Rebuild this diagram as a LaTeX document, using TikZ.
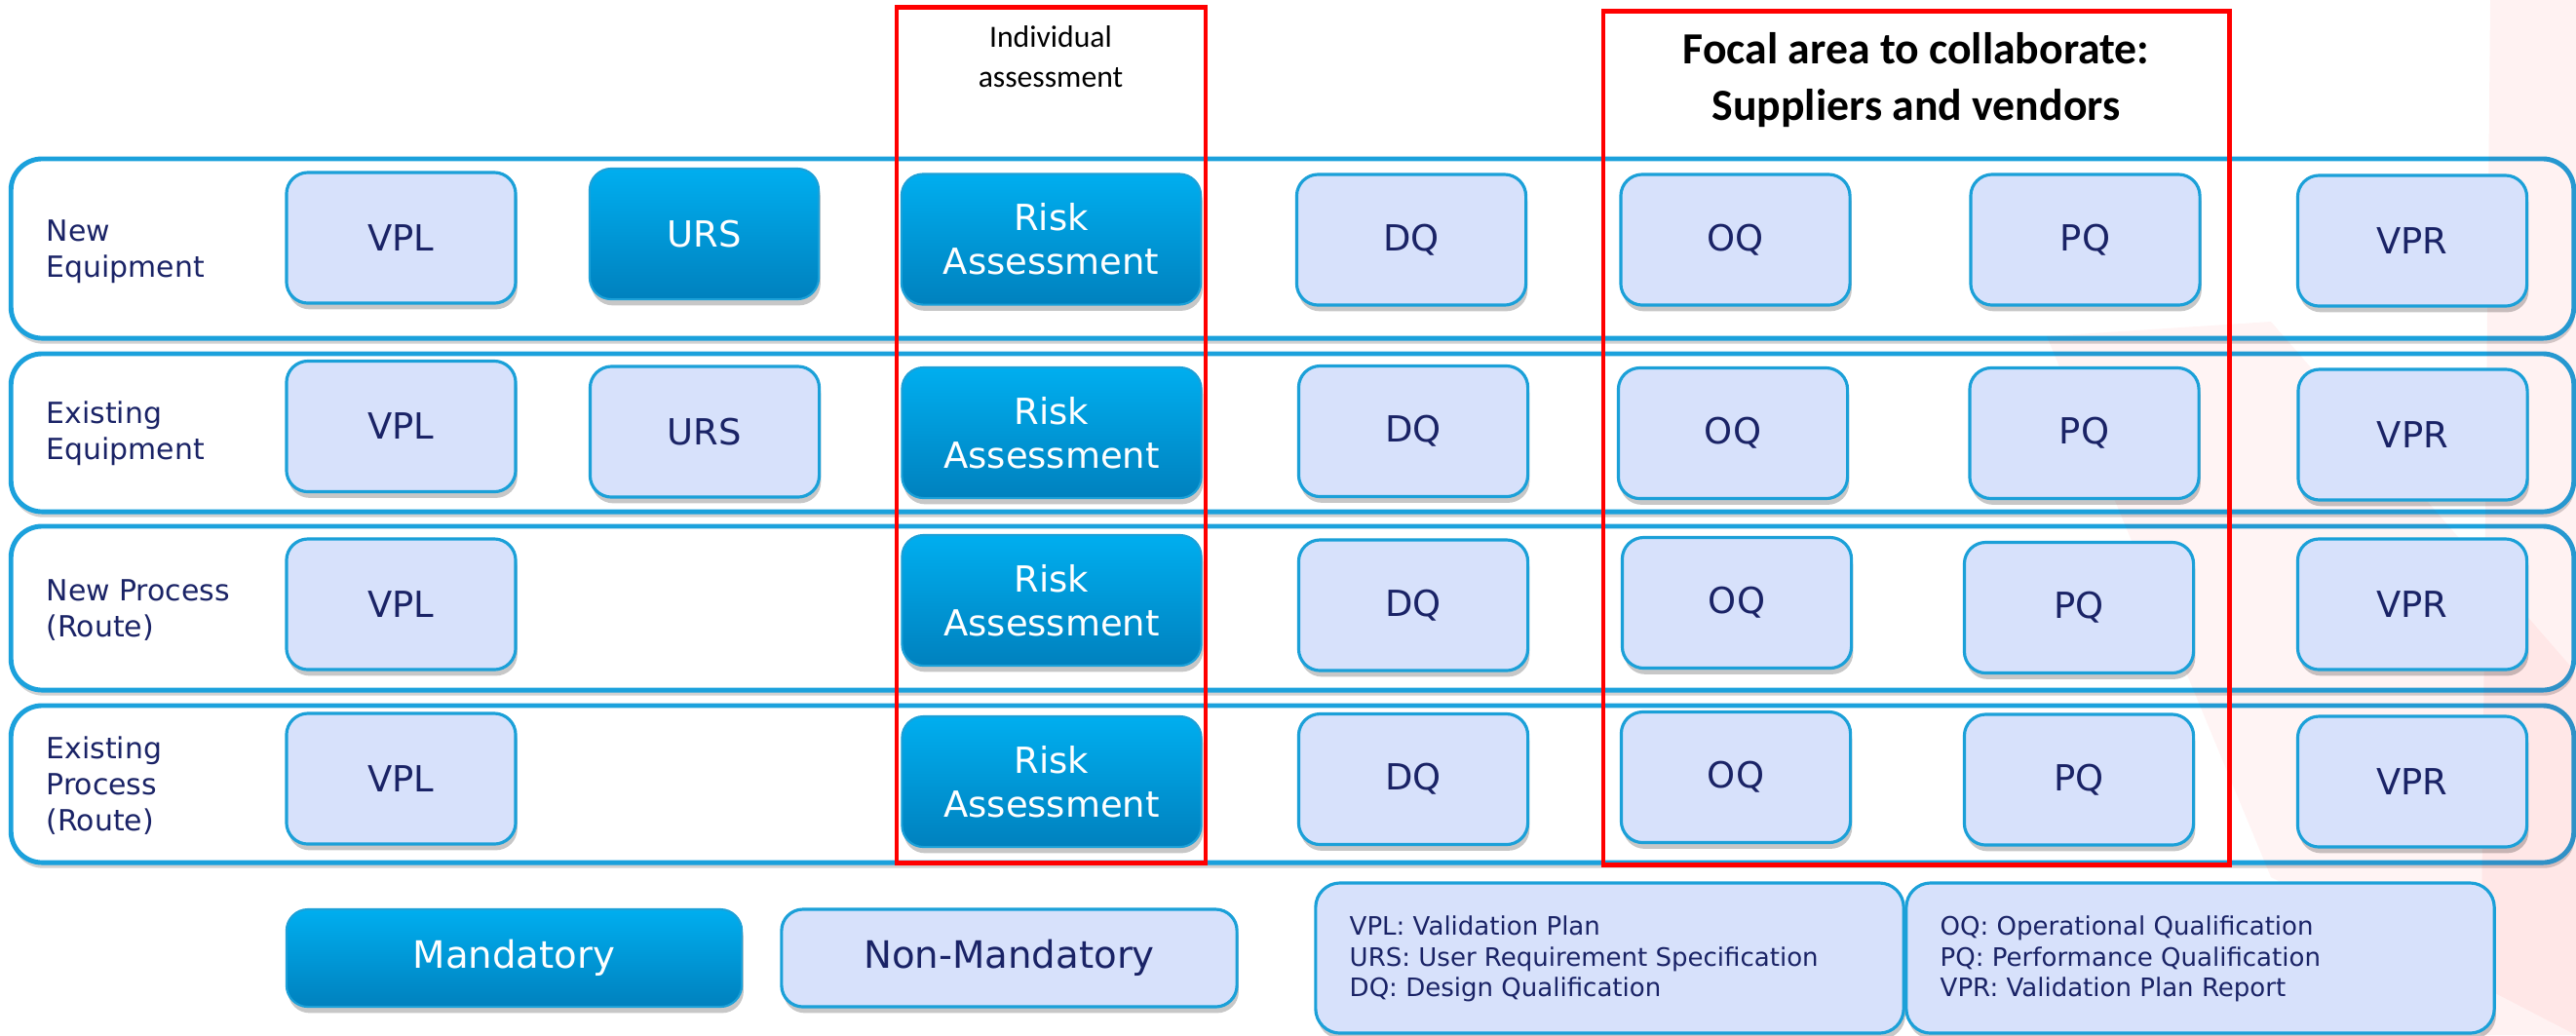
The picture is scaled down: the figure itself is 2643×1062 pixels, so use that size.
\documentclass[tikz,border=0pt]{standalone}
\usepackage{fontspec}
\setmainfont{DejaVu Sans}
\newfontfamily\calib{Carlito}
\usetikzlibrary{shadows,shadings}
\definecolor{navy}{HTML}{1A2366}
\definecolor{rowblue}{HTML}{1BA1DC}
\definecolor{nmfill}{HTML}{D7E1FB}
\definecolor{nmdraw}{HTML}{1BA0D8}
\definecolor{mtop}{HTML}{00AEEF}
\definecolor{mbot}{HTML}{0081BE}
\definecolor{redbox}{HTML}{FF0000}
\begin{document}
\begin{tikzpicture}[x=0.01cm,y=-0.01cm,
  boxshadow/.style={drop shadow={shadow xshift=0.5pt,shadow yshift=-1.8pt,opacity=0.22,fill=black}},
  boxfont/.style={font=\fontsize{10.5}{12.8}\selectfont},
  nm/.style={draw=nmdraw, line width=0.9pt, fill=nmfill, rounded corners=0.22cm,
    minimum width=2.35cm, minimum height=1.34cm, inner sep=0pt, align=center,
    text=navy, boxfont, boxshadow},
  mand/.style={draw=nmdraw, line width=0.6pt, top color=mtop, bottom color=mbot,
    rounded corners=0.22cm, minimum width=2.35cm, minimum height=1.34cm, inner sep=0pt,
    align=center, text=white, boxfont, boxshadow},
  risk/.style={mand, minimum width=3.07cm},
  rowbox/.style={draw=rowblue, line width=1.4pt, fill=white, rounded corners=0.32cm,
    minimum width=26.28cm, inner sep=0pt,
    drop shadow={shadow xshift=0.3pt,shadow yshift=-1.6pt,opacity=0.18,fill=black}},
  rowlabel/.style={anchor=west, align=left, text=navy, inner sep=0pt,
    font=\fontsize{8.5}{10.5}\selectfont},
  redframe/.style={draw=redbox, line width=1.3pt, inner sep=0pt},
  legbox/.style={draw=nmdraw, line width=0.9pt, fill=nmfill, rounded corners=0.25cm,
    minimum width=6.03cm, minimum height=1.54cm, inner sep=0pt, boxshadow},
  legtext/.style={anchor=west, align=left, text=navy, inner sep=0pt,
    font=\fontsize{7.4}{9}\selectfont},
  keyfont/.style={font=\fontsize{11}{13}\selectfont, minimum width=4.67cm, minimum height=1.0cm}
]
% background and bounding box
\fill[white] (0,0) rectangle (2643,1062);
\useasboundingbox (0,0) rectangle (2643,1062);

% row containers
\node[rowbox, minimum height=1.84cm] (row1) at (1326,255) {};
\node[rowbox, minimum height=1.62cm] (row2) at (1326,444) {};
\node[rowbox, minimum height=1.68cm] (row3) at (1326,624) {};
\node[rowbox, minimum height=1.61cm] (row4) at (1326,804.5) {};

% faint watermark
\fill[red, opacity=0.05] (2555,0) -- (2643,0) -- (2643,1062) -- (2545,1062) -- cycle;
\fill[red, opacity=0.045] (2100,345) -- (2330,330) -- (2643,690) -- (2643,1062) -- (2330,900) -- cycle;

% row labels
\node[rowlabel] (lab1) at (47,258.5) {New\\Equipment};
\node[rowlabel] (lab2) at (47,444.5) {Existing\\Equipment};
\node[rowlabel] (lab3) at (47,626.5) {New Process\\(Route)};
\node[rowlabel] (lab4) at (47,806) {Existing\\Process\\(Route)};

% row 1
\node[nm]   (vpl1) at (411.5,244) {VPL};
\node[mand] (urs1) at (722.5,240) {URS};
\node[risk] (ra1)  at (1078.5,245.5) {Risk\\Assessment};
\node[nm]   (dq1)  at (1448,246) {DQ};
\node[nm]   (oq1)  at (1780.5,246) {OQ};
\node[nm]   (pq1)  at (2139.5,246) {PQ};
\node[nm]   (vpr1) at (2475,247) {VPR};

% row 2
\node[nm]   (vpl2) at (411.5,437.5) {VPL};
\node[nm]   (urs2) at (723,443) {URS};
\node[risk] (ra2)  at (1079,444) {Risk\\Assessment};
\node[nm]   (dq2)  at (1450,442.5) {DQ};
\node[nm]   (oq2)  at (1778,444.5) {OQ};
\node[nm]   (pq2)  at (2138.5,444.5) {PQ};
\node[nm]   (vpr2) at (2475.5,446) {VPR};

% row 3
\node[nm]   (vpl3) at (411.5,620) {VPL};
\node[risk] (ra3)  at (1079,616) {Risk\\Assessment};
\node[nm]   (dq3)  at (1450,621) {DQ};
\node[nm]   (oq3)  at (1782,618.5) {OQ};
\node[nm]   (pq3)  at (2133,623.5) {PQ};
\node[nm]   (vpr3) at (2475,620) {VPR};

% row 4
\node[nm]   (vpl4) at (411.5,799) {VPL};
\node[risk] (ra4)  at (1079,802) {Risk\\Assessment};
\node[nm]   (dq4)  at (1450,799.5) {DQ};
\node[nm]   (oq4)  at (1781,797.5) {OQ};
\node[nm]   (pq4)  at (2133,800) {PQ};
\node[nm]   (vpr4) at (2475,802) {VPR};

% red frames
\node[redframe, minimum width=3.17cm, minimum height=8.77cm] (redA) at (1078.5,446.5) {};
\node[redframe, minimum width=6.42cm, minimum height=8.75cm] (redB) at (1966,449.5) {};
\node[align=center, inner sep=0pt, font=\calib\fontsize{9}{11.7}\selectfont] (indiv) at (1078,58) {Individual\\assessment};
\node[align=center, inner sep=0pt, font=\calib\bfseries\fontsize{13}{16.5}\selectfont] (focal) at (1966,82) {Focal area to collaborate:\\Suppliers and vendors};

% key
\node[mand, keyfont] (keym) at (527.5,983) {Mandatory};
\node[nm, keyfont] (keynm) at (1035.5,983) {Non-Mandatory};
\node[legbox] (leg1) at (1651.5,983) {};
\node[legbox] (leg2) at (2257.5,983) {};
\node[legtext] (legt1) at (1384,984) {VPL: Validation Plan\\URS: User Requirement Specification\\DQ: Design Qualification};
\node[legtext] (legt2) at (1990,984) {OQ: Operational Qualification\\PQ: Performance Qualification\\VPR: Validation Plan Report};
\end{tikzpicture}
\end{document}
